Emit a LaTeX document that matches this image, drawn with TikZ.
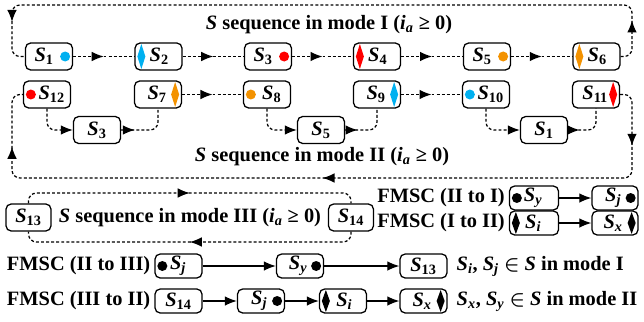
\documentclass[tikz,border=0pt]{standalone}
\usepackage{fontspec}
\setmainfont{Liberation Serif}
\usetikzlibrary{arrows.meta, decorations.markings, positioning}

\definecolor{mblue}{HTML}{00B0F0}
\definecolor{mred}{HTML}{FF0000}
\definecolor{morange}{HTML}{F39200}

\newcommand{\Sv}[1]{\textbf{\textit{S}}\textsubscript{\textbf{#1}}}
\newcommand{\Svi}[1]{\textbf{\textit{S}}\textsubscript{\textbf{\textit{#1}}}}
% markers inside the boxes
\newcommand{\mdotL}[2]{\fill[#2] (#1.west) ++(8,0) circle[radius=1.25mm];}
\newcommand{\mdotR}[2]{\fill[#2] (#1.east) ++(-8,0) circle[radius=1.25mm];}
\newcommand{\mdiaL}[3][12.5]{\fill[#3] (#2.west) ++(3,0) -- ++(4,-#1) -- ++(4,#1) -- ++(-4,#1) -- cycle;}
\newcommand{\mdiaR}[3][12.5]{\fill[#3] (#2.east) ++(-3,0) -- ++(-4,-#1) -- ++(-4,#1) -- ++(4,#1) -- cycle;}

\tikzset{
  sbox/.style={draw, line width=0.9pt, rounded corners=1.3mm, minimum width=1.175cm, minimum height=0.675cm, inner sep=1pt},
  lbox/.style={sbox, minimum height=0.6cm},
  dline/.style={line width=0.9pt, dash pattern=on 2.1pt off 1.5pt, rounded corners=2mm},
  sline/.style={line width=0.9pt, -{Latex[length=3mm,width=2.4mm]}},
  arrowat/.style={postaction={decorate, decoration={markings, mark=at position #1 with {\arrow{Latex[length=3mm,width=2.4mm]}}}}},
  ltext/.style={inner sep=1pt},
}

\begin{document}
\begin{tikzpicture}[x=0.025cm, y=-0.025cm, font=\fontsize{14.5}{17}\selectfont]
    \useasboundingbox (0,0) rectangle (644,322);
    %mode I
    \node[sbox] (iS1) at (49,56.5) {\Sv{1}\hspace*{2.4mm}};
    \node[sbox] (iS2) at (158.5,56.5) {\hspace*{1.6mm}\Sv{2}\hspace*{1.2mm}};
    \node[sbox] (iS3) at (268,56.5) {\Sv{3}\hspace*{2.4mm}};
    \node[sbox] (iS4) at (377,56.5) {\hspace*{1.6mm}\Sv{4}\hspace*{1.2mm}};
    \node[sbox] (iS5) at (487,56.5) {\Sv{5}\hspace*{2.4mm}};
    \node[sbox] (iS6) at (596.5,56.5) {\hspace*{1.6mm}\Sv{6}\hspace*{1.2mm}};
    %mode II
    \node[sbox] (iiS12) at (47,94.5) {\hspace*{2.4mm}\Sv{12}};
    \node[sbox] (iiS7) at (158,94.5) {\hspace*{1.2mm}\Sv{7}\hspace*{1.6mm}};
    \node[sbox] (iiS8) at (267,94.5) {\hspace*{2.4mm}\Sv{8}};
    \node[sbox] (iiS9) at (377,94.5) {\hspace*{1.2mm}\Sv{9}\hspace*{1.6mm}};
    \node[sbox] (iiS10) at (486,94.5) {\hspace*{2.4mm}\Sv{10}};
    \node[sbox] (iiS11) at (596,94.5) {\hspace*{1.2mm}\Sv{11}\hspace*{1.6mm}};
    \node[sbox] (iiS3) at (97,130) {\Sv{3}};
    \node[sbox] (iiS5) at (321,130) {\Sv{5}};
    \node[sbox] (iiS1) at (544,130) {\Sv{1}};
    %mode III
    \node[sbox, minimum width=1.125cm] (iiiS13) at (28.5,217.5) {\Sv{13}};
    \node[sbox, minimum width=1.125cm] (iiiS14) at (351,217.5) {\Sv{14}};
    \node[ltext] (mIII) at (190,217.5) {\textbf{\textit{S} sequence in mode III (\textit{i}\textsubscript{\textit{a}} ≥ 0)}};
    \node[ltext] (mI) at (329,25) {\textbf{\textit{S} sequence in mode I (\textit{i}\textsubscript{\textit{a}} ≥ 0)}};
    \node[ltext] (mII) at (322,157) {\textbf{\textit{S} sequence in mode II (\textit{i}\textsubscript{\textit{a}} ≥ 0)}};

    \mdotR{iS1}{mblue} \mdiaL{iS2}{mblue} \mdotR{iS3}{mred}
    \mdiaL{iS4}{mred} \mdotR{iS5}{morange} \mdiaL{iS6}{morange}
    \mdotL{iiS12}{mred} \mdiaR{iiS7}{morange} \mdotL{iiS8}{morange}
    \mdiaR{iiS9}{mblue} \mdotL{iiS10}{mblue} \mdiaR{iiS11}{mred}

    \coordinate (tr) at (632,5);
    \coordinate (tl) at (12,5);
    \coordinate (br) at (632,178);
    \coordinate (bl) at (12,178);
    \coordinate (t3) at (190,193);
    \coordinate (b3) at (190,242);

    \draw[dline, arrowat=0.5] (iS1.east) -- (iS2.west);
    \draw[dline, arrowat=0.5] (iS2.east) -- (iS3.west);
    \draw[dline, arrowat=0.5] (iS3.east) -- (iS4.west);
    \draw[dline, arrowat=0.5] (iS4.east) -- (iS5.west);
    \draw[dline, arrowat=0.5] (iS5.east) -- (iS6.west);
    \draw[dline, arrowat=0.06, arrowat=0.94] (iS6.east) -| (tr) -- (tl) |- (iS1.west);

    \draw[dline, -{Latex[length=3mm,width=2.4mm]}] (iiS12.south) |- (iiS3.west);
    \draw[dline, arrowat=0.25] (iiS3.east) -| (iiS7.south);
    \draw[dline, arrowat=0.5] (iiS7.east) -- (iiS8.west);
    \draw[dline, -{Latex[length=3mm,width=2.4mm]}] (iiS8.south) |- (iiS5.west);
    \draw[dline, arrowat=0.25] (iiS5.east) -| (iiS9.south);
    \draw[dline, arrowat=0.5] (iiS9.east) -- (iiS10.west);
    \draw[dline, -{Latex[length=3mm,width=2.4mm]}] (iiS10.south) |- (iiS1.west);
    \draw[dline, arrowat=0.25] (iiS1.east) -| (iiS11.south);
    \draw[dline, arrowat=0.075, arrowat=0.5, arrowat=0.925] (iiS11.east) -| (br) -- (bl) |- (iiS12.west);

    \draw[dline, arrowat=0.5] (iiiS13.north) |- (t3) -| (iiiS14.north);
    \draw[dline, arrowat=0.5] (iiiS14.south) |- (b3) -| (iiiS13.south);

    %FMSC
    \node[lbox, minimum width=1.225cm] (fa1) at (534,198) {\hspace*{2.2mm}\Svi{y}\hspace*{2.6mm}};
    \node[lbox, minimum width=1.15cm] (fa2) at (615,198) {\hspace*{1.5mm}\Svi{j}\hspace*{2.4mm}};
    \node[lbox, minimum width=1.225cm] (fb1) at (534,223) {\hspace*{2.2mm}\Svi{i}\hspace*{2.6mm}};
    \node[lbox, minimum width=1.15cm] (fb2) at (615,223) {\hspace*{1.5mm}\Svi{x}\hspace*{2.4mm}};
    \node[ltext, left=0.6mm of fa1] (fat) {\textbf{FMSC (II to I)}};
    \node[ltext, left=0.6mm of fb1] (fbt) {\textbf{FMSC (I to II)}};
    \draw[sline] (fa1) -- (fa2);
    \draw[sline] (fb1) -- (fb2);

    \node[lbox] (fc1) at (178.5,266) {\hspace*{2.2mm}\Svi{j}\hspace*{2.4mm}};
    \node[lbox] (fc2) at (300,266) {\hspace*{1.5mm}\Svi{y}\hspace*{2.4mm}};
    \node[lbox] (fc3) at (423.5,266) {\Sv{13}};
    \node[lbox] (fd1) at (178.5,301) {\Sv{14}};
    \node[lbox] (fd2) at (261,301) {\hspace*{1.5mm}\Svi{j}\hspace*{2.4mm}};
    \node[lbox] (fd3) at (343,301) {\hspace*{2.2mm}\Svi{i}\hspace*{1.5mm}};
    \node[lbox] (fd4) at (423.5,301) {\hspace*{1.5mm}\Svi{x}\hspace*{2.2mm}};
    \node[ltext, left=0.6mm of fc1] (fct) {\textbf{FMSC (II to III)}};
    \node[ltext, left=0.6mm of fd1] (fdt) {\textbf{FMSC (III to II)}};
    \draw[sline] (fc1) -- (fc2);
    \draw[sline] (fc2) -- (fc3);
    \draw[sline] (fd1) -- (fd2);
    \draw[sline] (fd2) -- (fd3);
    \draw[sline] (fd3) -- (fd4);

    \mdotL{fa1}{black} \mdotR{fa2}{black} \mdiaL[11]{fb1}{black} \mdiaR[11]{fb2}{black}
    \mdotL{fc1}{black} \mdotR{fc2}{black} \mdotR{fd2}{black} \mdiaL[11]{fd3}{black} \mdiaR[11]{fd4}{black}

    \node[ltext, anchor=west] (ka) at (455,266) {\Svi{i}\textbf{,} \Svi{j} {\boldmath$\in$} \textbf{\textit{S} in mode I}};
    \node[ltext, anchor=west] (kb) at (455,301) {\Svi{x}\textbf{,} \Svi{y} {\boldmath$\in$} \textbf{\textit{S} in mode II}};
\end{tikzpicture}
\end{document}
